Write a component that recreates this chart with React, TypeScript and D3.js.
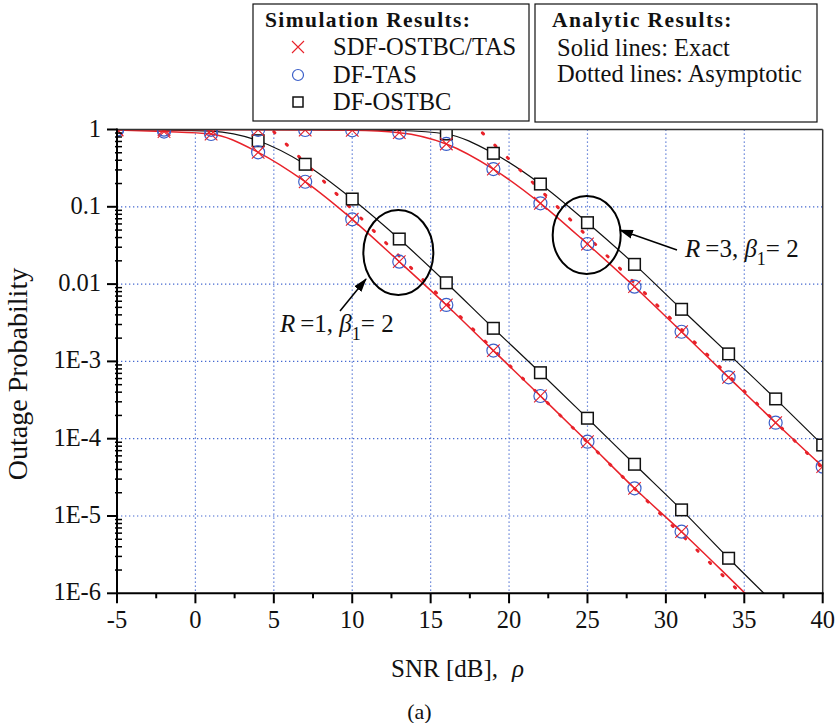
import React from 'react';
import * as d3 from 'd3';

// ---------- data ----------
const snr = [-5, -2, 1, 4, 7, 10, 13, 16, 19, 22, 25, 28, 31, 34, 37, 40];
// R = 1, beta1 = 2
const r1Tas = [0.985, 0.94, 0.875, 0.507, 0.211, 0.0689, 0.0195, 0.00537, 0.00138, 3.57e-4, 9.14e-5, 2.28e-5, 6.27e-6, 1.62e-6, 4.1e-7, null];
const r1Ostbc = [0.995, 0.985, 0.95, 0.716, 0.355, 0.126, 0.0383, 0.0104, 0.00268, 7.14e-4, 1.84e-4, 4.67e-5, 1.2e-5, 2.84e-6, 7.1e-7, null];
// R = 3, beta1 = 2
const r3Tas = [0.995, 0.995, 0.99, 0.99, 0.985, 0.975, 0.91, 0.65, 0.308, 0.111, 0.033, 0.00926, 0.00242, 6.22e-4, 1.61e-4, 4.35e-5];
const r3Ostbc = [1, 1, 1, 0.998, 0.995, 0.99, 0.97, 0.875, 0.492, 0.197, 0.0623, 0.018, 0.00472, 1.25e-3, 3.27e-4, 8.28e-5];
// simulation marker ranges (SNR)
const r1TasMarkRange = [-5, 31];
const r1OstbcMarkRange = [4, 34];
const r3TasMarkRange = [-5, 40];
const r3OstbcMarkRange = [16, 40];
// asymptotic (dotted) lines
const r1AsymSnr = [5, 20, 35.5];
const r1Asym = [0.935, 9.0e-4, 7.2e-7];
const r3AsymSnr = [18.3, 30, 40];
const r3Asym = [0.904, 4.13e-3, 4.13e-5];

const xTicks = [-5, 0, 5, 10, 15, 20, 25, 30, 35, 40];
const yTicks = [1, 0.1, 0.01, 1e-3, 1e-4, 1e-5, 1e-6];
const yTickLabels = ['1', '0.1', '0.01', '1E-3', '1E-4', '1E-5', '1E-6'];

const legendSim = ['SDF-OSTBC/TAS', 'DF-TAS', 'DF-OSTBC'];
const legendAna = ['Solid lines: Exact', 'Dotted lines: Asymptotic'];

const RED = '#e8222a';
const BLUE = '#3b5fc9';
const GRID = '#4568d0';
const FONT = '"Liberation Serif", "Times New Roman", serif';

const W = 839, H = 723;
const L = 117, R = 822.7, T = 129.5, B = 593.3;

export default function App() {
  const x = d3.scaleLinear().domain([-5, 40]).range([L, R]);
  const y = d3.scaleLog().domain([1e-6, 1]).range([B, T]);

  const line = d3.line<[number, number | null]>()
    .defined(d => d[1] != null)
    .x(d => x(d[0]))
    .y(d => y(d[1] as number))
    .curve(d3.curveMonotoneX);
  const straight = d3.line<[number, number]>().x(d => x(d[0])).y(d => y(d[1]));

  const zip = (xs: number[], ys: (number | null)[]) => xs.map((v, i) => [v, ys[i]] as [number, number | null]);

  const marks = (vals: (number | null)[], range: number[]) =>
    snr.map((s, i) => ({ s, v: vals[i] })).filter(d => d.v != null && d.s >= range[0] && d.s <= range[1]);

  const xMinor = d3.range(-2.5, 40, 5);
  const yMinor: number[] = [];
  for (let e = -6; e < 0; e++) for (let k = 2; k <= 9; k++) yMinor.push(k * Math.pow(10, e));

  const cross = (cx: number, cy: number, s: number, key: any) => (
    <path key={key} d={`M${cx - s},${cy - s}L${cx + s},${cy + s}M${cx - s},${cy + s}L${cx + s},${cy - s}`} stroke={RED} strokeWidth={1.1} fill="none" />
  );
  const circ = (cx: number, cy: number, r: number, key: any) => (
    <circle key={key} cx={cx} cy={cy} r={r} stroke={BLUE} strokeWidth={1.2} fill="none" />
  );
  const sq = (cx: number, cy: number, s: number, key: any) => (
    <rect key={key} x={cx - s} y={cy - s} width={2 * s} height={2 * s} stroke="#111" strokeWidth={1.5} fill="#fff" />
  );

  const groups = [
    { tas: r1Tas, ost: r1Ostbc, tasR: r1TasMarkRange, ostR: r1OstbcMarkRange, asX: r1AsymSnr, asY: r1Asym },
    { tas: r3Tas, ost: r3Ostbc, tasR: r3TasMarkRange, ostR: r3OstbcMarkRange, asX: r3AsymSnr, asY: r3Asym },
  ];

  const annotations = [
    { ex: 12.94, ey: 0.0256, rx: 35, ry: 42.5, tail: [9.22, 0.00449], head: [10.88, 0.01164], tx: 5.39, ty: 0.0024, r: '1' },
    { ex: 24.95, ey: 0.0432, rx: 34, ry: 39, tail: [30.71, 0.0276], head: [27.07, 0.0501], tx: 31.22, ty: 0.0224, r: '3' },
  ];

  return (
    <svg width={W} height={H} style={{ position: 'absolute', left: 0, top: 0, background: '#fff' }} fontFamily={FONT}>
      <defs>
        <clipPath id="plot"><rect x={L} y={T} width={R - L} height={B - T} /></clipPath>
        <marker id="ah" viewBox="0 0 14 10" refX="13" refY="5" markerWidth="14" markerHeight="10" markerUnits="userSpaceOnUse" orient="auto">
          <path d="M0,0.5 L14,5 L0,9.5 z" fill="#000" />
        </marker>
      </defs>
      <rect x={0} y={0} width={W} height={H} fill="#fff" />

      {/* grid */}
      <g stroke={GRID} strokeWidth={1.2} strokeDasharray="1.3,2.7">
        {xTicks.filter(t => t > -5 && t < 40).map(t => <line key={'gx' + t} x1={x(t)} x2={x(t)} y1={T} y2={B} />)}
        {yTicks.filter(t => t < 1 && t > 1e-6).map(t => <line key={'gy' + t} x1={L} x2={R} y1={y(t)} y2={y(t)} />)}
      </g>

      {/* curves */}
      <g clipPath="url(#plot)">
        {groups.map((g, gi) => (
          <g key={'c' + gi}>
            <path d={line(zip(snr, g.ost)) || ''} stroke="#111" strokeWidth={1.2} fill="none" />
            <path d={line(zip(snr, g.tas)) || ''} stroke={RED} strokeWidth={1.5} fill="none" />
            <path d={straight(g.asX.map((v, i) => [v, g.asY[i]] as [number, number])) || ''} stroke={RED} strokeWidth={3} strokeDasharray="1.5,16" strokeLinecap="round" fill="none" />
          </g>
        ))}
        {groups.map((g, gi) => (
          <g key={'m' + gi}>
            {marks(g.ost, g.ostR).map((d, i) => sq(x(d.s), y(d.v as number), 5.8, 's' + i))}
            {marks(g.tas, g.tasR).map((d, i) => circ(x(d.s), y(d.v as number), 6.5, 'o' + i))}
            {marks(g.tas, g.tasR).map((d, i) => cross(x(d.s), y(d.v as number), 6.3, 'x' + i))}
          </g>
        ))}
      </g>

      {/* annotations */}
      {annotations.map((a, i) => (
        <g key={'a' + i}>
          <ellipse cx={x(a.ex)} cy={y(a.ey)} rx={a.rx} ry={a.ry} stroke="#000" strokeWidth={2} fill="none" />
          <line x1={x(a.tail[0])} y1={y(a.tail[1])} x2={x(a.head[0])} y2={y(a.head[1])} stroke="#000" strokeWidth={1.5} markerEnd="url(#ah)" />
          <text x={x(a.tx)} y={y(a.ty)} fontSize={25} fill="#111">
            <tspan fontStyle="italic">R</tspan>
            <tspan dx={5}>=</tspan>
            <tspan>{a.r}, </tspan>
            <tspan fontStyle="italic">β</tspan>
            <tspan dy={8} fontSize={18}>1</tspan>
            <tspan dy={-8}>= 2</tspan>
          </text>
        </g>
      ))}

      {/* frame */}
      <line x1={L} x2={R} y1={T} y2={T} stroke="#333" strokeWidth={1.5} />
      <line x1={R} x2={R} y1={T} y2={B} stroke="#333" strokeWidth={1.5} />
      <line x1={L} x2={L} y1={T - 1} y2={B + 1} stroke="#000" strokeWidth={2} />
      <line x1={L - 1} x2={R + 1} y1={B} y2={B} stroke="#000" strokeWidth={2} />

      {/* x ticks */}
      {xTicks.map(t => <line key={'xt' + t} x1={x(t)} x2={x(t)} y1={B} y2={B + 10} stroke="#000" strokeWidth={2} />)}
      {xMinor.map(t => <line key={'xm' + t} x1={x(t)} x2={x(t)} y1={B} y2={B + 5} stroke="#000" strokeWidth={2} />)}
      {xTicks.map(t => (
        <text key={'xl' + t} x={x(t)} y={628} fontSize={24.5} textAnchor="middle" fill="#111">{t < 0 ? '-' + Math.abs(t) : String(t)}</text>
      ))}

      {/* y ticks */}
      {yTicks.map(t => <line key={'yt' + t} x1={L - 10} x2={L} y1={y(t)} y2={y(t)} stroke="#000" strokeWidth={2} />)}
      {yMinor.map(t => <line key={'ym' + t} x1={L - 2} x2={L + 5} y1={y(t)} y2={y(t)} stroke="#000" strokeWidth={1.5} />)}
      {yTicks.map((t, i) => (
        <text key={'yl' + t} x={101} y={y(t) + 7} fontSize={24.5} textAnchor="end" fill="#111">{yTickLabels[i]}</text>
      ))}

      {/* axis titles */}
      <text transform={`translate(27,374) rotate(-90)`} fontSize={28} textAnchor="middle" fill="#111">Outage Probability</text>
      <text x={391} y={677} fontSize={25} fill="#111">SNR [dB],<tspan dx={14} fontStyle="italic">ρ</tspan></text>
      <text x={419.5} y={719} fontSize={22} textAnchor="middle" fill="#111">(a)</text>

      {/* legend: simulation */}
      <rect x={253} y={4} width={276} height={117} fill="#fff" stroke="#111" strokeWidth={1.2} />
      <text x={265} y={27} fontSize={21.5} fontWeight="bold" letterSpacing={1.4} fill="#111">Simulation Results:</text>
      {cross(298, 47, 6, 'lx')}
      {circ(298, 75, 5.5, 'lo')}
      {sq(298, 102, 5, 'ls')}
      {legendSim.map((s, i) => (
        <text key={'ls' + i} x={333} y={55 + i * 27.5} fontSize={24.5} fill="#111">{s}</text>
      ))}

      {/* legend: analytic */}
      <rect x={535} y={4} width={282} height={118} fill="#fff" stroke="#111" strokeWidth={1.2} />
      <text x={552} y={27} fontSize={21.5} fontWeight="bold" letterSpacing={1.4} fill="#111">Analytic Results:</text>
      {legendAna.map((s, i) => (
        <text key={'la' + i} x={557} y={56 + i * 26} fontSize={24.5} fill="#111">{s}</text>
      ))}
    </svg>
  );
}
